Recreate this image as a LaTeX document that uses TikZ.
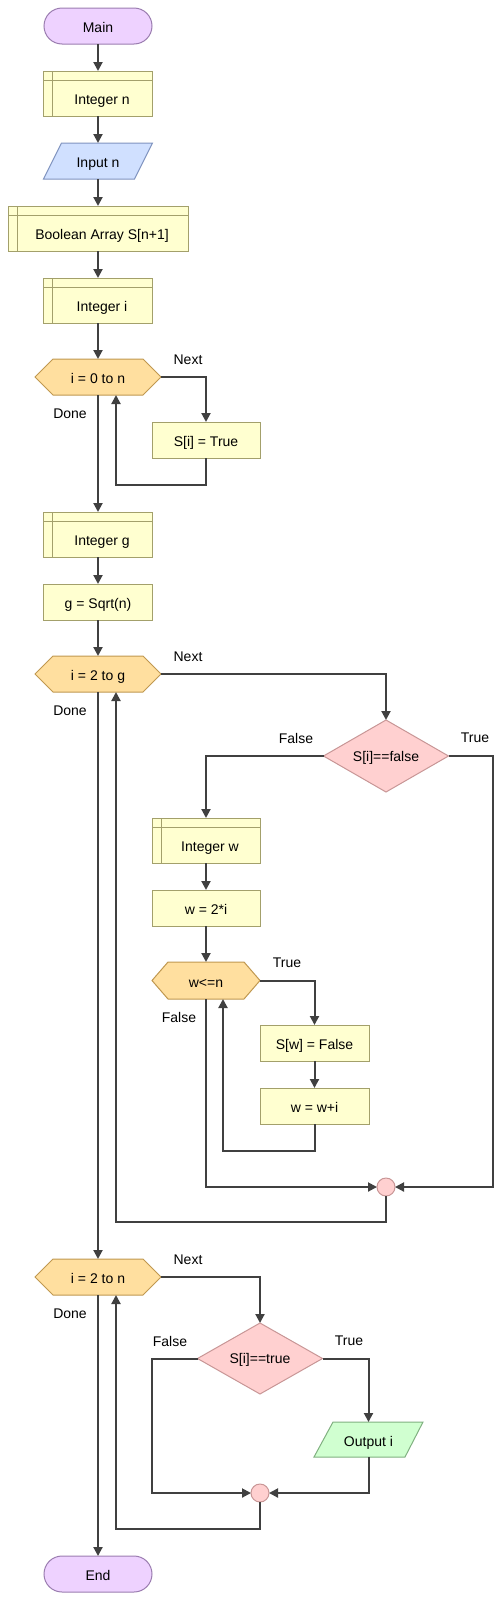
\documentclass[tikz,border=0pt]{standalone}
\usepackage{fontspec}
\setmainfont{Liberation Sans}
\usepackage{tikz}
\usetikzlibrary{positioning,shapes.geometric,arrows.meta,backgrounds}

\definecolor{linecol}{HTML}{404040}
\definecolor{termfill}{HTML}{EED2FF}
\definecolor{termline}{HTML}{9B7DB0}
\definecolor{declfill}{HTML}{FFFFD0}
\definecolor{declline}{HTML}{A3A06B}
\definecolor{infill}{HTML}{D0E0FF}
\definecolor{inline}{HTML}{7F93BF}
\definecolor{outfill}{HTML}{D0FFD0}
\definecolor{outline}{HTML}{80B080}
\definecolor{loopfill}{HTML}{FFDF9F}
\definecolor{loopline}{HTML}{C09850}
\definecolor{condfill}{HTML}{FFD0D0}
\definecolor{condline}{HTML}{C89696}

\begin{document}
\begin{tikzpicture}[
		x=1pt, y=-1pt,
		font=\fontsize{14pt}{17pt}\selectfont,
		node distance=27pt,
		base/.style={align=center, inner sep=3pt, outer sep=0pt, line width=1pt,
			minimum width=109pt, minimum height=36pt, text height=16pt, text depth=3pt},
		term/.style={base, draw=termline, fill=termfill, rounded corners=18pt, minimum width=108pt},
		decl/.style={base, draw=declline, fill=declfill, minimum height=45pt,
			text height=24.5pt, execute at begin node=\hspace*{8pt}},
		proc/.style={base, draw=declline, fill=declfill},
		iobox/.style={base},
		loopbox/.style={base, minimum width=126pt},
		cond/.style={diamond, draw=condline, fill=condfill, line width=1pt, aspect=1.7,
			minimum width=125pt, minimum height=72pt, inner sep=0pt, outer sep=0pt,
			text height=13pt, text depth=3pt},
		joint/.style={circle, draw=condline, fill=condfill, line width=1pt,
			minimum size=18pt, inner sep=0pt, outer sep=0pt},
		lbl/.style={inner sep=0pt},
		flow/.style={draw=linecol, line width=2pt, -{Triangle[length=9pt,width=9pt]}},
		declsep/.style={draw=declline, line width=1pt}
	]

	\useasboundingbox (0,0) rectangle (503,1601);

	\node [term] (main) at (98,26) {Main};
	\node [decl,below=of main] (intn) {Integer n};
	\node [iobox,below=of intn] (inpn) {Input n};
	\node [decl,below=of inpn,minimum width=180pt] (boolS) {Boolean Array S[n+1]};
	\node [decl,below=of boolS] (inti) {Integer i};
	\node [loopbox,below=36pt of inti] (loopa) {i = 0 to n};
	\node [proc,minimum width=108pt] (setS) at (206,440) {S[i] = True};
	\node [decl,below=117pt of loopa] (intg) {Integer g};
	\node [proc,below=of intg] (sqrtg) {g = Sqrt(n)};
	\node [loopbox,below=36pt of sqrtg] (loopb) {i = 2 to g};
	\node [cond] (chkf) at (386,756) {S[i]==false};
	\node [decl,minimum width=108pt] (intw) at (206,840.5) {Integer w};
	\node [proc,below=of intw,minimum width=108pt] (setw) {w = 2*i};
	\node [loopbox,below=36pt of setw,minimum width=108pt,minimum height=37pt] (loopw) {w<=n};
	\node [proc] (setf) at (314.5,1043) {S[w] = False};
	\node [proc,below=of setf] (incw) {w = w+i};
	\node [joint] (joina) at (386,1187) {};
	\node [loopbox] (loopc) at (98,1277) {i = 2 to n};
	\node [cond,minimum height=71pt] (chkt) at (260,1358.5) {S[i]==true};
	\node [iobox,minimum height=35pt] (outi) at (368.5,1439.5) {Output i};
	\node [joint] (joinb) at (260,1493) {};
	\node [term,below=261pt of loopc] (endn) {End};

	\node [lbl] (nexta) at ([xshift=27pt,yshift=17pt]loopa.east) {Next};
	\node [lbl] (donea) at ([xshift=-28pt,yshift=-37pt]loopa.center) {Done};
	\node [lbl] (nextb) at ([xshift=27pt,yshift=17pt]loopb.east) {Next};
	\node [lbl] (doneb) at ([xshift=-28pt,yshift=-37pt]loopb.center) {Done};
	\node [lbl] (nextc) at ([xshift=27pt,yshift=17pt]loopc.east) {Next};
	\node [lbl] (donec) at ([xshift=-28pt,yshift=-37pt]loopc.center) {Done};
	\node [lbl] (truew) at ([xshift=27pt,yshift=17.5pt]loopw.east) {True};
	\node [lbl] (falsew) at ([xshift=-27pt,yshift=-36.5pt]loopw.center) {False};
	\node [lbl] (falsef) at ([xshift=-27.5pt,yshift=18pt]chkf.west) {False};
	\node [lbl] (truef) at ([xshift=26.5pt,yshift=18pt]chkf.east) {True};
	\node [lbl] (falset) at ([xshift=-27.5pt,yshift=17.5pt]chkt.west) {False};
	\node [lbl] (truet) at ([xshift=26.5pt,yshift=17.5pt]chkt.east) {True};

	\begin{scope}[on background layer]
		\foreach \h/\c in {loopa/18,loopb/18,loopc/18,loopw/16}
			\filldraw [fill=loopfill,draw=loopline,line width=1pt] (\h.west) -- ([xshift=\c pt]\h.north west)
				-- ([xshift=-\c pt]\h.north east) -- (\h.east) -- ([xshift=-\c pt]\h.south east)
				-- ([xshift=\c pt]\h.south west) -- cycle;
		\filldraw [fill=infill,draw=inline,line width=1pt] (inpn.south west) -- ([xshift=18pt]inpn.north west)
			-- (inpn.north east) -- ([xshift=-18pt]inpn.south east) -- cycle;
		\filldraw [fill=outfill,draw=outline,line width=1pt] (outi.south west) -- ([xshift=19pt]outi.north west)
			-- (outi.north east) -- ([xshift=-18pt]outi.south east) -- cycle;
	\end{scope}

	\foreach \d in {intn,boolS,inti,intg,intw} {
		\draw [declsep] ([xshift=9pt]\d.north west) -- ([xshift=9pt]\d.south west);
		\draw [declsep] ([yshift=-9pt]\d.north west) -- ([yshift=-9pt]\d.north east);
	}

	\draw [flow] (main) -- (intn);
	\draw [flow] (intn) -- (inpn);
	\draw [flow] (inpn) -- (boolS);
	\draw [flow] (boolS) -- (inti);
	\draw [flow] (inti) -- (loopa);
	\draw [flow] (loopa.east) -| (setS.north);
	\draw [flow] (setS.south) -- ++(0,27) -| ([xshift=18pt]loopa.south);
	\draw [flow] (loopa) -- (intg);
	\draw [flow] (intg) -- (sqrtg);
	\draw [flow] (sqrtg) -- (loopb);
	\draw [flow] (loopb.east) -| (chkf.north);
	\draw [flow] (chkf.west) -| (intw.north);
	\draw [flow] (chkf.east) -- ++(44,0) |- (joina.east);
	\draw [flow] (intw) -- (setw);
	\draw [flow] (setw) -- (loopw);
	\draw [flow] (loopw.east) -| (setf.north);
	\draw [flow] (setf) -- (incw);
	\draw [flow] (incw.south) -- ++(0,27) -| ([xshift=17pt]loopw.south);
	\draw [flow] (loopw.south) |- (joina.west);
	\draw [flow] (joina.south) -- ++(0,26) -| ([xshift=18pt]loopb.south);
	\draw [flow] (loopb) -- (loopc);
	\draw [flow] (loopc.east) -| (chkt.north);
	\draw [flow] (chkt.east) -| (outi.north);
	\draw [flow] (chkt.west) -- ++(-46,0) |- (joinb.west);
	\draw [flow] (outi.south) |- (joinb.east);
	\draw [flow] (joinb.south) -- ++(0,27) -| ([xshift=18pt]loopc.south);
	\draw [flow] (loopc) -- (endn);
\end{tikzpicture}
\end{document}
